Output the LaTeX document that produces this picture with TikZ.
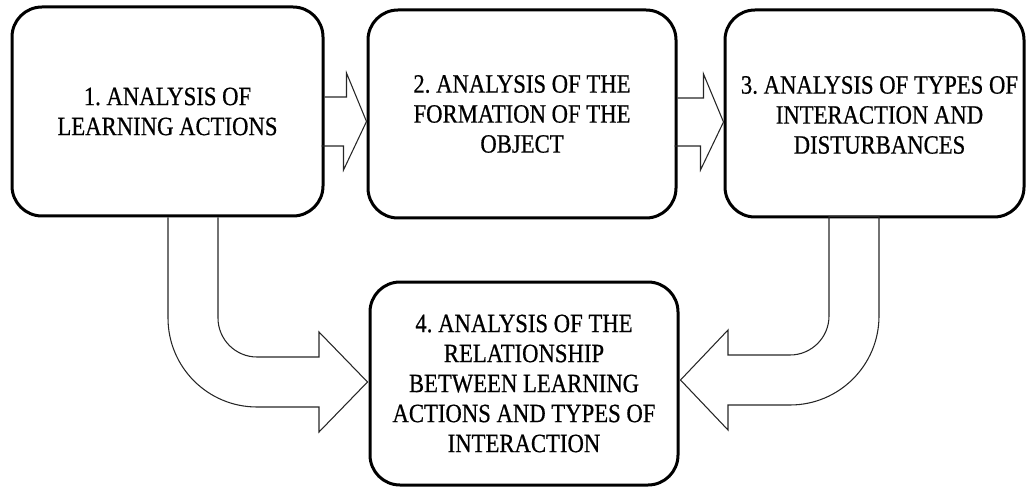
\documentclass[tikz,border=0pt]{standalone}
\usepackage{fontspec}
\setmainfont[FakeStretch=0.86,FakeBold=0.6]{Liberation Serif}
\usetikzlibrary{calc}
\frenchspacing

\tikzset{
  stagebox/.style={draw=black, line width=2.25pt, rounded corners=22.5pt,
    fill=white, align=center, inner sep=0pt,
    font=\fontsize{19.8pt}{22.5pt}\selectfont},
  stagetext/.style={align=center, inner sep=0pt,
    font=\fontsize{19.8pt}{22.5pt}\selectfont},
  blockarrow/.style={draw=black!85, line width=0.8pt, line join=miter}
}

\begin{document}
\begin{tikzpicture}[x=0.75pt, y=-0.75pt]
                        \useasboundingbox (0,0) rectangle (1027,488);

                        % Drawing stage boxes
                        \node [stagebox, minimum width=233.25pt, minimum height=156.75pt] (learn) at (167.5,111.5) {1. ANALYSIS OF\\LEARNING ACTIONS};%
                        \node [stagebox, minimum width=231pt, minimum height=156pt] (object) at (522,114) {2. ANALYSIS OF THE\\FORMATION OF THE\\OBJECT};%
                        \node [stagebox, minimum width=224.25pt, minimum height=155.25pt] (types) at (874.5,113.5) {};%
                        \node [stagetext] (typestext) at (879.5,115) {3. ANALYSIS OF TYPES OF\\INTERACTION AND\\DISTURBANCES};%
                        \node [stagebox, minimum width=231pt, minimum height=152.25pt] (relation) at (524,383.5) {4. ANALYSIS OF THE\\RELATIONSHIP\\BETWEEN LEARNING\\ACTIONS AND TYPES OF\\INTERACTION};%

                        % Drawing arrow learn object
                        \draw [blockarrow] ($(learn.east)+(0,-14.5)$) -- ++(22,0) -- ++(0,-24) -- ($(object.west)+(0,7.5)$) -- ++(-23,48.5) -- ++(0,-24) -- ++(-22,0);%

                        % Drawing arrow object types
                        \draw [blockarrow] ($(object.east)+(0,-16)$) -- ++(26,0) -- ++(0,-24) -- ($(types.west)+(0,8.5)$) -- ++(-23,48) -- ++(0,-24) -- ++(-26,0);%

                        % Drawing bent arrow learn relation
                        \draw [blockarrow] ($(learn.south)+(0.5,0)$) -- (168,318) .. controls (168,367.2) and (207.8,407) .. (257,407) -- (319,407) -- (319,432) -- ($(relation.west)+(-1,-1.5)$) -- (319,332) -- (319,357) -- (257,357) .. controls (235.5,357) and (218,339.5) .. (218,318) -- ($(learn.south)+(50.5,0)$);%

                        % Drawing bent arrow types relation
                        \draw [blockarrow] ($(types.south)+(-45.5,-2)$) -- (829,316) .. controls (829,337.5) and (811.5,355) .. (790,355) -- (728,355) -- (728,330) -- ($(relation.east)+(1,-3.5)$) -- (728,430) -- (728,405) -- (790,405) .. controls (839.2,405) and (879,365.2) .. (879,316) -- ($(types.south)+(4.5,-2)$) -- cycle;%
                    \end{tikzpicture}
\end{document}
